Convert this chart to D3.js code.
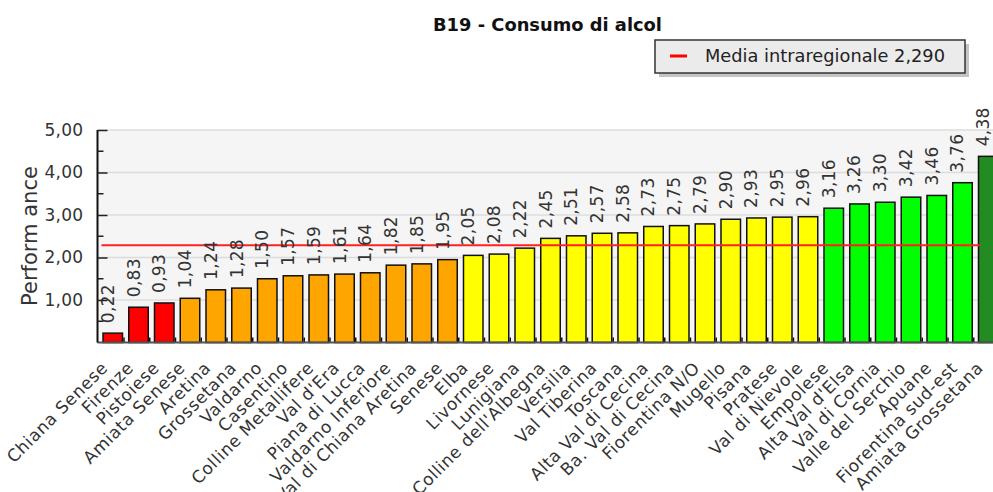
<!DOCTYPE html>
<html>
<head>
<meta charset="utf-8">
<script src="https://cdn.jsdelivr.net/npm/d3@7"></script>
<style>
  html, body { margin: 0; padding: 0; background: #fff; }
  svg { display: block; font-family: "DejaVu Sans", Verdana, sans-serif; }
</style>
</head>
<body>
<svg id="chart" width="993" height="492"></svg>
<script>
const categories = ["Chiana Senese","Firenze","Pistoiese","Amiata Senese","Aretina","Grossetana","Valdarno","Casentino","Colline Metallifere","Val d'Era","Piana di Lucca","Valdarno Inferiore","Val di Chiana Aretina","Senese","Elba","Livornese","Lunigiana","Colline dell'Albegna","Versilia","Val Tiberina","Toscana","Alta Val di Cecina","Ba. Val di Cecina","Fiorentina N/O","Mugello","Pisana","Pratese","Val di Nievole","Empolese","Alta Val d'Elsa","Val di Cornia","Valle del Serchio","Apuane","Fiorentina sud-est","Amiata Grossetana"];
const values = [0.22,0.83,0.93,1.04,1.24,1.28,1.50,1.57,1.59,1.61,1.64,1.82,1.85,1.95,2.05,2.08,2.22,2.45,2.51,2.57,2.58,2.73,2.75,2.79,2.90,2.93,2.95,2.96,3.16,3.26,3.30,3.42,3.46,3.76,4.38];
const classes = ["red","red","red","orange","orange","orange","orange","orange","orange","orange","orange","orange","orange","orange","yellow","yellow","yellow","yellow","yellow","yellow","yellow","yellow","yellow","yellow","yellow","yellow","yellow","yellow","green","green","green","green","green","green","darkgreen"];
const classColors = {red:"#ff0000", orange:"#ffa500", yellow:"#ffff00", green:"#00ff00", darkgreen:"#228b22"};
const mediaValue = 2.29;
const mediaLabel = "Media intraregionale 2,290";
const yTicks = [1,2,3,4,5];
const yMinorTicks = [0.5,1.5,2.5,3.5,4.5];
const title = "B19 - Consumo di alcol";
const yTitle = "Perform ance";

const fmt = v => d3.format(".2f")(v).replace(".", ",");
const svg = d3.select("#chart");

const plotLeft = 97.5, plotTop = 130, plotBottom = 342.5;
const x = d3.scaleBand().domain(categories).range([plotLeft, 1003.5]).paddingInner(0.2427).paddingOuter(0.2136);
const y = d3.scaleLinear().domain([0, 5]).range([plotBottom, plotTop]);

// plot background
svg.append("rect").attr("x", plotLeft).attr("y", plotTop).attr("width", 993 - plotLeft).attr("height", plotBottom - plotTop).attr("fill", "#f5f5f5");

// gridlines
svg.append("g").selectAll("line").data(yTicks).join("line")
  .attr("x1", plotLeft).attr("x2", 993).attr("y1", d => y(d)).attr("y2", d => y(d))
  .attr("stroke", "#dcdcdc").attr("stroke-width", 1.5);

// bars
svg.append("g").selectAll("rect").data(values).join("rect")
  .attr("x", (d,i) => x(categories[i]))
  .attr("y", d => y(d))
  .attr("width", x.bandwidth())
  .attr("height", d => plotBottom - y(d))
  .attr("fill", (d,i) => classColors[classes[i]])
  .attr("stroke", "#111").attr("stroke-width", 1.5);

// small x ticks
svg.append("g").selectAll("line").data(categories).join("line")
  .attr("x1", d => x(d) + x.bandwidth() + 1.5).attr("x2", d => x(d) + x.bandwidth() + 1.5)
  .attr("y1", plotBottom).attr("y2", plotBottom - 5)
  .attr("stroke", "#111").attr("stroke-width", 1.5);

// average line
svg.append("line")
  .attr("x1", x(categories[0]) - 1.5).attr("x2", x(categories[categories.length-1]) + 1.5)
  .attr("y1", y(mediaValue)).attr("y2", y(mediaValue))
  .attr("stroke", "#ff2020").attr("stroke-width", 2);

// value labels
svg.append("g").selectAll("text").data(values).join("text")
  .attr("transform", (d,i) => `translate(${x(categories[i]) + x.bandwidth()/2 + 1},${y(d) - 10}) rotate(-90)`)
  .attr("font-size", 17).attr("fill", "#333").attr("letter-spacing", 0.3)
  .text(d => fmt(d));

// axes lines
svg.append("line").attr("x1", plotLeft).attr("x2", 993).attr("y1", plotBottom).attr("y2", plotBottom)
  .attr("stroke", "#555").attr("stroke-width", 2);
const yAxis = d3.axisLeft(y).tickValues(yTicks).tickSizeInner(-10).tickSizeOuter(0).tickFormat(fmt).tickPadding(14);
const yg = svg.append("g").attr("transform", `translate(${plotLeft},0)`).call(yAxis);
yg.select(".domain").attr("stroke", "#111").attr("stroke-width", 2).attr("d", `M0,${plotTop}V${plotBottom}`);
yg.selectAll(".tick line").attr("stroke", "#222").attr("stroke-width", 1.5);
yg.selectAll(".tick text").attr("font-size", 17).attr("fill", "#333").attr("font-family", "DejaVu Sans, sans-serif").attr("letter-spacing", 0.3);
svg.append("g").selectAll("line").data(yMinorTicks).join("line")
  .attr("x1", plotLeft).attr("x2", plotLeft + 6).attr("y1", d => y(d)).attr("y2", d => y(d))
  .attr("stroke", "#222").attr("stroke-width", 1.5);

// y title
svg.append("text").attr("transform", `translate(37,236) rotate(-90)`)
  .attr("text-anchor", "middle").attr("font-size", 21).attr("fill", "#333").text(yTitle);

// x labels
svg.append("g").selectAll("text").data(categories).join("text")
  .attr("transform", d => `translate(${x(d) + x.bandwidth()/2 - 4},369) rotate(-45)`)
  .attr("text-anchor", "end").attr("font-size", 17).attr("letter-spacing", 0.6).attr("fill", "#333")
  .text(d => d);

// title
svg.append("text").attr("x", 547.5).attr("y", 31).attr("text-anchor", "middle")
  .attr("font-size", 17).attr("font-weight", "bold").attr("fill", "#111")
  .attr("textLength", 229).attr("lengthAdjust", "spacingAndGlyphs").text(title);

// legend
const lg = svg.append("g");
lg.append("rect").attr("x", 659).attr("y", 44).attr("width", 310).attr("height", 33).attr("fill", "#c4c4c4");
lg.append("rect").attr("x", 655).attr("y", 40).attr("width", 310).attr("height", 33).attr("fill", "#ebebeb").attr("stroke", "#333").attr("stroke-width", 1.5);
lg.append("line").attr("x1", 670).attr("x2", 687).attr("y1", 56).attr("y2", 56).attr("stroke", "#ff0000").attr("stroke-width", 3);
lg.append("text").attr("x", 705).attr("y", 62).attr("font-size", 17).attr("fill", "#222")
  .attr("textLength", 240).attr("lengthAdjust", "spacingAndGlyphs").text(mediaLabel);
</script>
</body>
</html>
